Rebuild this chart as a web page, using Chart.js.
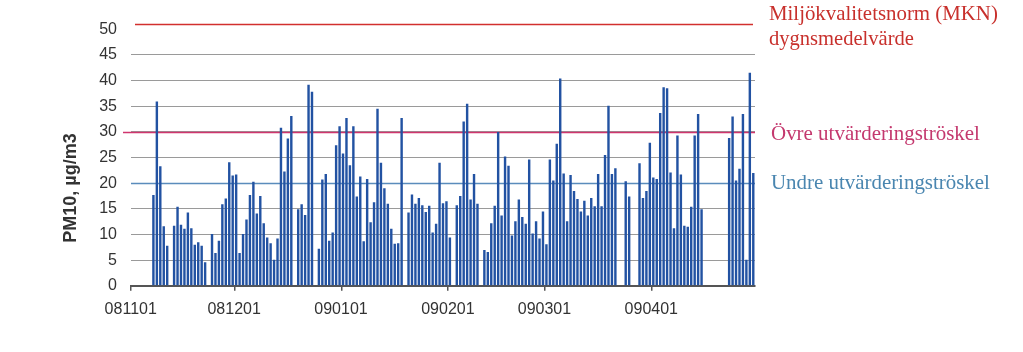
<!DOCTYPE html>
<html>
<head>
<meta charset="utf-8">
<script src="https://cdn.jsdelivr.net/npm/chart.js@4.4.1/dist/chart.umd.min.js"></script>
<style>
  html, body { margin: 0; padding: 0; background: #fff; }
  #wrap { position: relative; width: 1023px; height: 352px; }
</style>
</head>
<body>
<div id="wrap"><canvas id="pmChart"></canvas></div>
<script>
// months on the axis and their day counts
const monthLabels = ["081101", "081201", "090101", "090201", "090301", "090401"];
const monthDays = [30, 31, 31, 28, 31, 30];

// daily PM10 (µg/m3), one array per month, null = no measurement
const pmNov = [null, null, null, null, null, null, 17.7, 35.9, 23.3, 11.6,
  7.8, null, 11.7, 15.4, 11.9, 11.1, 14.3, 11.2, 8.0, 8.5,
  7.8, 4.6, null, 10.1, 6.4, 8.8, 15.9, 17.0, 24.1, 21.5];
const pmDec = [21.7, 6.4, 10.1, 12.9, 17.7, 20.3, 14.1, 17.5, 12.2, 9.4,
  8.3, 5.1, 9.2, 30.8, 22.3, 28.7, 33.1, null, 14.9, 15.9,
  13.8, 39.2, 37.8, null, 7.2, 20.7, 21.8, 8.8, 10.4, 27.4, 31.1];
const pmJan = [25.8, 32.7, 23.5, 31.1, 17.4, 21.3, 8.7, 20.8, 12.4, 16.3,
  34.5, 24.0, 19.0, 16.0, 11.1, 8.2, 8.3, 32.7, null, 14.3,
  17.8, 16.0, 17.1, 15.7, 14.4, 15.6, 10.4, 12.1, 24.0, 16.1, 16.5];
const pmFeb = [9.4, null, 15.7, 17.5, 32.0, 35.5, 16.8, 21.8, 16.0, null,
  7.0, 6.6, 12.2, 15.6, 30.0, 13.7, 25.2, 23.4, 9.8, 12.6,
  16.8, 13.4, 12.1, 24.6, 10.2, 12.6, 9.2, 14.5];
const pmMar = [8.1, 24.6, 20.5, 27.7, 40.4, 21.9, 12.6, 21.6, 18.5, 16.9,
  14.5, 16.6, 13.7, 17.1, 15.5, 21.8, 15.5, 25.5, 35.1, 21.8,
  22.9, null, null, 20.4, 17.4, null, null, 23.9, 17.1, 18.5, 27.9];
const pmApr = [21.1, 20.8, 33.7, 38.7, 38.5, 22.1, 11.2, 29.3, 21.7, 11.7,
  11.5, 15.4, 29.3, 33.5, 14.9, null, null, null, null, null,
  null, null, 28.8, 33.0, 20.5, 22.8, 33.5, 5.1, 41.5, 22.0];

const yTicks = [0, 5, 10, 15, 20, 25, 30, 35, 40, 45, 50];

// reference levels as drawn in the picture
const mknLevel = 51;
const upperLevel = 30;
const lowerLevel = 20;

// build the day axis: one category per day, the month label on day 1
const dayLabels = [];
const monthStartIdx = [];
monthLabels.forEach((m, k) => {
  monthStartIdx.push(dayLabels.length);
  const pre = m.slice(0, 4);
  for (let d = 1; d <= monthDays[k]; d++) {
    dayLabels.push(pre + String(d).padStart(2, "0"));
  }
});
const pmValues = [].concat(pmNov, pmDec, pmJan, pmFeb, pmMar, pmApr);

const sansFont = "'Liberation Sans', Arial, sans-serif";
const serifFont = "'Liberation Serif', 'Times New Roman', serif";

// fit a serif label to the width it has in the original
function fitText(ctx, text, targetWidth) {
  ctx.font = "20px " + serifFont;
  const w = ctx.measureText(text).width;
  const size = 20 * targetWidth / w;
  ctx.font = size.toFixed(2) + "px " + serifFont;
}

const refLines = {
  id: "refLines",
  beforeDatasetsDraw(chart) {
    const ctx = chart.ctx;
    const area = chart.chartArea;
    const y = chart.scales.y;
    const lines = [
      { v: lowerLevel, x0: area.left, x1: area.right, color: "#5a8cbc", w: 1.6 },
      { v: upperLevel, x0: area.left - 8, x1: area.right, color: "#d0356e", w: 1.6 },
      { v: mknLevel, x0: area.left + 4, x1: area.right - 2, color: "#d2302e", w: 1.6 }
    ];
    ctx.save();
    lines.forEach(l => {
      const py = Math.round(y.getPixelForValue(l.v)) + 0.5;
      ctx.strokeStyle = l.color;
      ctx.lineWidth = l.w;
      ctx.beginPath();
      ctx.moveTo(l.x0, py);
      ctx.lineTo(l.x1, py);
      ctx.stroke();
    });
    ctx.restore();
  },
  afterDraw(chart) {
    const ctx = chart.ctx;
    const area = chart.chartArea;
    const y = chart.scales.y;
    const tx = area.right + 14;
    ctx.save();
    ctx.textAlign = "left";
    ctx.textBaseline = "alphabetic";

    ctx.fillStyle = "#c8302c";
    fitText(ctx, "Miljökvalitetsnorm (MKN)", 229);
    ctx.fillText("Miljökvalitetsnorm (MKN)", tx, 20);
    fitText(ctx, "dygnsmedelvärde", 145);
    ctx.fillText("dygnsmedelvärde", tx, 45);

    ctx.fillStyle = "#c4386e";
    fitText(ctx, "Övre utvärderingströskel", 209);
    ctx.fillText("Övre utvärderingströskel", tx + 2, y.getPixelForValue(upperLevel) + 8);

    ctx.fillStyle = "#4a86b0";
    fitText(ctx, "Undre utvärderingströskel", 219);
    ctx.fillText("Undre utvärderingströskel", tx + 2, y.getPixelForValue(lowerLevel) + 6);

    // y axis title
    ctx.translate(71, 188);
    ctx.rotate(-Math.PI / 2);
    ctx.textAlign = "center";
    ctx.textBaseline = "middle";
    ctx.fillStyle = "#333";
    ctx.font = "bold 18px " + sansFont;
    ctx.fillText("PM10, µg/m3", 0, 0);
    ctx.restore();
  }
};

const ctx = document.getElementById("pmChart").getContext("2d");

const chart = new Chart(ctx, {
  type: "bar",
  data: {
    labels: dayLabels,
    datasets: [{
      label: "PM10",
      data: pmValues,
      backgroundColor: "#2252a2",
      borderWidth: 0,
      categoryPercentage: 1,
      barPercentage: 0.7
    }]
  },
  options: {
    responsive: true,
    maintainAspectRatio: false,
    animation: false,
    layout: { padding: { top: 19, right: 268, bottom: 24, left: 0 } },
    plugins: {
      legend: { display: false },
      tooltip: { enabled: false }
    },
    scales: {
      x: {
        type: "category",
        offset: true,
        grid: {
          offset: true,
          drawOnChartArea: false,
          drawTicks: true,
          tickLength: 5,
          lineWidth: 1.5,
          color: c => monthStartIdx.includes(c.index) ? "#555" : "rgba(0,0,0,0)"
        },
        border: { color: "#555", width: 2 },
        ticks: {
          autoSkip: false,
          maxRotation: 0,
          minRotation: 0,
          padding: 9,
          labelOffset: -2,
          color: "#333",
          font: { family: sansFont, size: 16 },
          callback: (v, i) => monthStartIdx.includes(i) ? dayLabels[i] : ""
        }
      },
      y: {
        min: 0,
        max: 52,
        afterBuildTicks: s => { s.ticks = yTicks.map(v => ({ value: v })); },
        afterFit: s => { s.width = 131; s.paddingTop = 0; s.paddingBottom = 0; },
        border: { display: false },
        grid: {
          drawTicks: false,
          lineWidth: 1,
          color: c => (c.tick && (c.tick.value === 0 || c.tick.value === 50)) ? "rgba(0,0,0,0)" : "#9a9a9a"
        },
        ticks: {
          padding: 14,
          color: "#333",
          font: { family: sansFont, size: 16 }
        }
      }
    }
  },
  plugins: [refLines]
});
</script>
</body>
</html>
